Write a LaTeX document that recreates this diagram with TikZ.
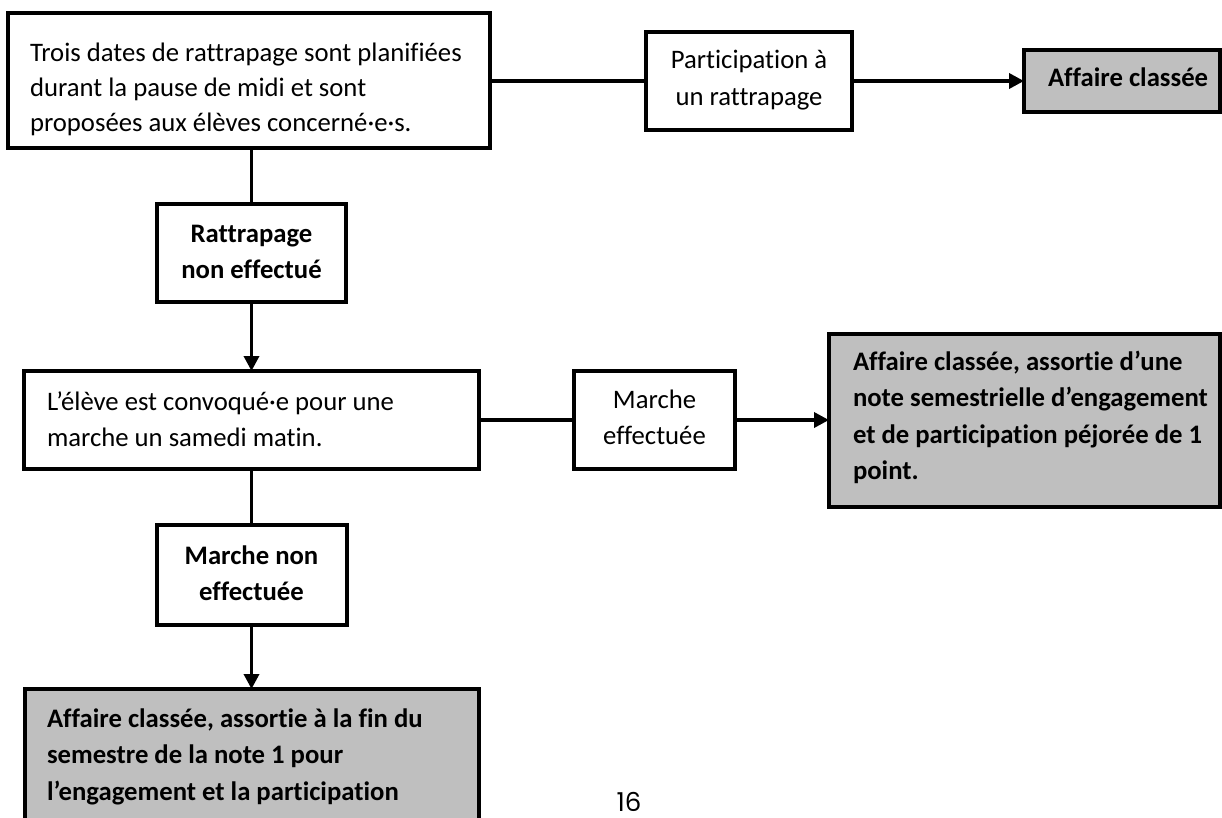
\documentclass[tikz,border=0pt]{standalone}
\usepackage{fontspec}
\setmainfont{Carlito}[Ligatures={NoCommon}]
\newfontfamily\pagenumfont{Poppins}
\usetikzlibrary{arrows.meta}
\definecolor{boxgray}{HTML}{BFBFBF}
\tikzset{
  box/.style={draw=black, line width=4pt, fill=white, inner sep=0pt, outer sep=0pt},
  endbox/.style={box, fill=boxgray},
  link/.style={draw=black, line width=3.5pt},
  arrowlink/.style={link, -{Triangle[length=15pt,width=15pt]}},
  txt/.style={inner sep=0pt, outer sep=0pt, font=\fontsize{26.7}{36.5}\selectfont},
  txtleft/.style={txt, anchor=base west},
  txtcenter/.style={txt, anchor=base},
}
\begin{document}
\begin{tikzpicture}[x=1pt,y=-1pt]
\useasboundingbox (0,0) rectangle (1222,818);
\clip (0,0) rectangle (1222,818);
\fill[white] (0,0) rectangle (1222,818);

% boxes
\node[box, minimum width=482pt, minimum height=135pt] (b1) at (249,81) {};
\node[box, minimum width=206pt, minimum height=98pt] (b2) at (749,81) {};
\node[endbox, minimum width=195.5pt, minimum height=62pt] (b3) at (1121.75,81) {};
\node[box, minimum width=189pt, minimum height=98pt] (r1) at (251.5,253) {};
\node[box, minimum width=455pt, minimum height=98pt] (b4) at (251.5,420) {};
\node[box, minimum width=161pt, minimum height=98pt] (b5) at (654.5,420) {};
\node[endbox, minimum width=390.5pt, minimum height=173pt] (b6) at (1024.25,420) {};
\node[box, minimum width=190pt, minimum height=100pt] (r2) at (251.5,575) {};
\node[endbox, minimum width=454pt, minimum height=151pt] (b7) at (251.5,764.5) {};

% texts
\node[txtleft, font=\fontsize{26.7}{35}\selectfont] (t1) at (30,62)
  {\parbox[t]{500pt}{\raggedright Trois dates de rattrapage sont planifiées\\durant la pause de midi et sont\\proposées aux élèves concerné·e·s.}};
\node[txtcenter] (t2) at (749,69)
  {\parbox[t]{300pt}{\centering Participation à\\un rattrapage}};
\node[txtleft] (t3) at (1048,87) {\bfseries Affaire classée};
\node[txtcenter] (tr1) at (251.5,242)
  {\parbox[t]{300pt}{\centering\bfseries Rattrapage\\non effectué}};
\node[txtleft] (t4) at (47,410)
  {\parbox[t]{500pt}{\raggedright L’élève est convoqué·e pour une\\marche un samedi matin.}};
\node[txtcenter] (t5) at (654.5,408)
  {\parbox[t]{300pt}{\centering Marche\\effectuée}};
\node[txtleft] (t6) at (853,370)
  {\parbox[t]{500pt}{\raggedright\bfseries Affaire classée, assortie d’une\\note semestrielle d’engagement\\et de participation péjorée de 1\\point.}};
\node[txtcenter] (tr2) at (251.5,564)
  {\parbox[t]{300pt}{\centering\bfseries Marche non\\effectuée}};
\node[txtleft] (t7) at (47,727)
  {\parbox[t]{500pt}{\raggedright\bfseries Affaire classée, assortie à la fin du\\semestre de la note 1 pour\\l’engagement et la participation}};
\node[inner sep=0pt, anchor=base, font=\pagenumfont\fontsize{26}{30}\selectfont] (pg) at (629,811) {16};

% connectors
\draw[link] (b1.east) -- (b2.west);
\draw[arrowlink] (b2.east) -- (b3.west);
\draw[link] (r1.north |- b1.south) -- (r1.north);
\draw[arrowlink] (r1.south) -- (b4.north);
\draw[link] (b4.east) -- (b5.west);
\draw[arrowlink] (b5.east) -- (b6.west);
\draw[link] (b4.south) -- (r2.north);
\draw[arrowlink] (r2.south) -- (b7.north);
\end{tikzpicture}
\end{document}
